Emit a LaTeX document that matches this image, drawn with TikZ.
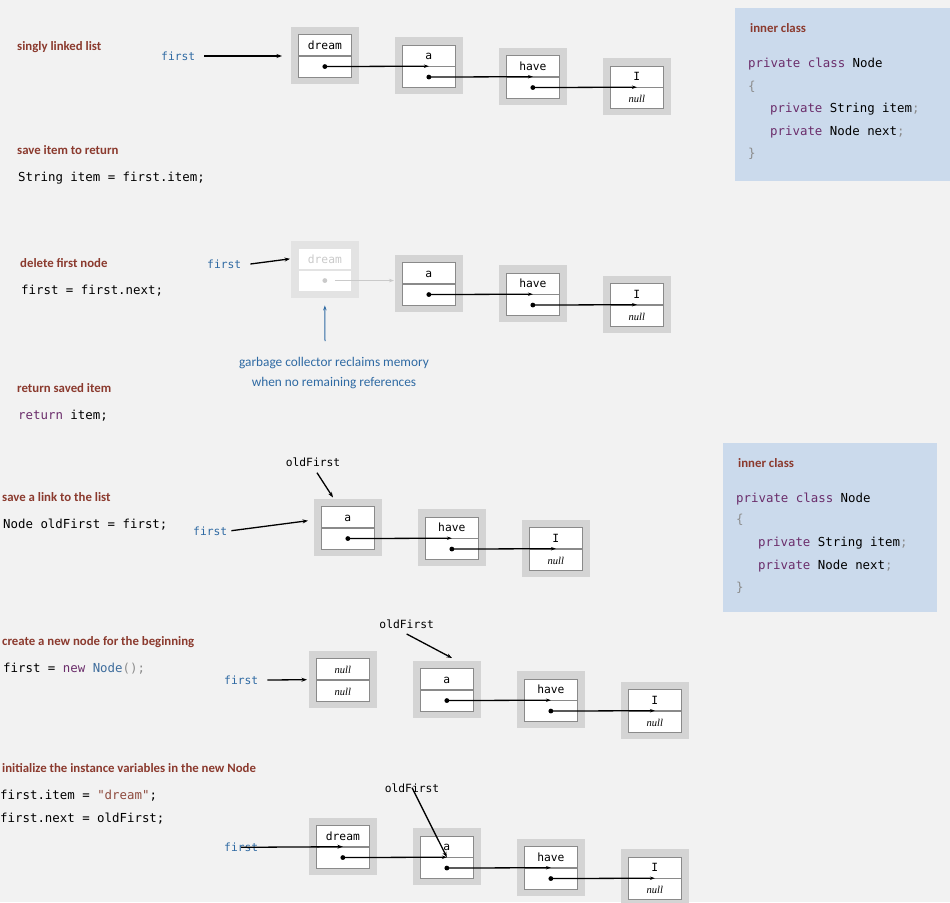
\documentclass[tikz,border=0pt]{standalone}
\usepackage{fontspec}
\setmainfont{Liberation Serif}
\setsansfont{Carlito}
\setmonofont{DejaVu Sans Mono}
\usepackage{xcolor}
\definecolor{FondPage}{HTML}{F2F2F2}
\definecolor{TitreRouge}{HTML}{8B3A2E}
\definecolor{BleuLabel}{HTML}{2F6AA3}
\definecolor{BleuNode}{HTML}{3D6C9C}
\definecolor{MotCle}{HTML}{6B2D6B}
\definecolor{BleuBoite}{HTML}{CBDAEC}
\definecolor{GrisNoeud}{HTML}{D4D4D4}
\definecolor{GrisBord}{HTML}{8A8A8A}
\definecolor{GrisFantome}{HTML}{E3E3E3}
\definecolor{TexteFantome}{HTML}{CACACA}
\definecolor{ChaineBrun}{HTML}{8E4B3E}
\definecolor{GrisAccolade}{HTML}{8C8C8C}
\usepackage{tikz}
\usetikzlibrary{calc,positioning,arrows.meta}

\newcommand{\kw}[1]{\textcolor{MotCle}{#1}}
\newcommand{\nulltexte}{{\rmfamily\itshape\fontsize{10.5}{12}\selectfont null}}
% noeud de liste : [style]{nom}{x}{y}{item}{next}
\newcommand{\noeud}[6][normal]{%
  \fill[fond#1] ({#3-7.5},{#4-7.5}) rectangle ({#3+60.5},{#4+49.5});
  \node[cell#1, anchor=north west] (#2-h) at (#3,#4) {#5};
  \node[cell#1, anchor=north] (#2-b) at (#2-h.south) {#6};
}
% lien next : point noir + fleche vers le noeud suivant
\newcommand{\lienpointe}[2]{%
  \fill (#1-b.center) circle (2.4);
  \draw[lien] (#1-b.center) -- (#2-h.south);
}

\begin{document}
\begin{tikzpicture}[x=1pt, y=-1pt,
    every node/.style={inner sep=0pt},
    titre/.style={anchor=west, font=\sffamily\bfseries\fontsize{12.8}{14}\selectfont, text=TitreRouge, text height=9pt, text depth=0pt},
    javacode/.style={anchor=west, font=\ttfamily\fontsize{12.4}{14}\selectfont, text height=10pt, text depth=0.5pt},
    etiq/.style={anchor=west, font=\ttfamily\fontsize{11.3}{13}\selectfont, text=BleuLabel, text height=9pt, text depth=0pt},
    nomvar/.style={font=\ttfamily\fontsize{11.3}{13}\selectfont, text height=9pt, text depth=0pt},
    gc/.style={font=\sffamily\fontsize{13.3}{15}\selectfont, text=BleuLabel},
    fondnormal/.style={fill=GrisNoeud},
    fondfantome/.style={fill=GrisFantome},
    cellnormal/.style={draw=GrisBord, fill=white, line width=0.7pt, minimum width=53pt, minimum height=21pt,
      font=\ttfamily\fontsize{11.3}{13}\selectfont, text height=9pt, text depth=0pt},
    cellfantome/.style={cellnormal, draw=GrisFantome, text=TexteFantome},
    lien/.style={line width=1.3pt, -{Stealth[length=5pt,width=3.5pt]}},
    pointeur/.style={line width=1.3pt, -{Stealth[length=5.5pt,width=4pt]}},
    boite/.style={fill=BleuBoite}]
    \path[use as bounding box, fill=FondPage] (0,0) rectangle (950,902);

    % classe interne (deux fois)
    \fill[boite] (735,8) rectangle (950,181);
    \node[titre] (ic1) at (750,28) {inner class};
    \node[javacode] (k1a) at (748,63) {\kw{private class} Node};
    \node[javacode, text=GrisAccolade] (k1b) at (748,86) {\{};
    \node[javacode] (k1c) at (770,108) {\kw{private} String item\textcolor{GrisAccolade}{;}};
    \node[javacode] (k1d) at (770,131) {\kw{private} Node next\textcolor{GrisAccolade}{;}};
    \node[javacode, text=GrisAccolade] (k1e) at (748,153) {\}};

    \fill[boite] (723,443) rectangle (937,612);
    \node[titre] (ic2) at (738,463) {inner class};
    \node[javacode] (k2a) at (736,497.7) {\kw{private class} Node};
    \node[javacode, text=GrisAccolade] (k2b) at (736,519) {\{};
    \node[javacode] (k2c) at (758,542) {\kw{private} String item\textcolor{GrisAccolade}{;}};
    \node[javacode] (k2d) at (758,565) {\kw{private} Node next\textcolor{GrisAccolade}{;}};
    \node[javacode, text=GrisAccolade] (k2e) at (736,587) {\}};

    % liste chainee
    \node[titre] (t1) at (17,46) {singly linked list};
    \node[etiq] (f1) at (161,56) {first};
    \noeud{d1}{298}{34}{dream}{}
    \noeud{a1}{402}{44.5}{a}{}
    \noeud{h1}{506}{55}{have}{}
    \noeud{i1}{610}{65.5}{I}{\nulltexte}
    \draw[pointeur] ([xshift=9pt]f1.east) -- ($(d1-h.west |- f1.east)+(-16,0)$);

    % sauver l'item
    \node[titre] (t2) at (17,150) {save item to return};
    \node[javacode] (c2) at (18,177) {String item = first.item;};

    % supprimer le premier noeud
    \node[titre] (t3) at (20,263) {delete first node};
    \node[javacode] (c3) at (21,290) {first = first.next;};
    \node[etiq] (f3) at (207,264) {first};
    \noeud[fantome]{g3}{298}{248}{dream}{}
    \noeud{a3}{402}{262}{a}{}
    \noeud{h3}{506}{272.5}{have}{}
    \noeud{i3}{610}{283}{I}{\nulltexte}
    \draw[pointeur] ([xshift=9pt]f3.east) -- ([xshift=-8pt]g3-h.west);
    \fill[TexteFantome] (g3-b.center) circle (2.4);
    \draw[lien, line width=0.9pt, TexteFantome] ($(g3-b.center)+(10,0)$) -- ($(g3-b.center -| a3-h.west)+(-8,0)$);
    \node[gc] (gc1) at (334,362.7) {garbage collector reclaims memory};
    \node[gc] (gc2) at (334,382.7) {when no remaining references};
    \coordinate (gcpied) at (325,341);
    \draw[lien, line width=1pt, BleuLabel] (gcpied) -- ([yshift=-14pt]g3-b.south);

    % retourner l'item
    \node[titre] (t4) at (17,388) {return saved item};
    \node[javacode] (c4) at (18,415) {\kw{return} item;};

    % garder un lien
    \node[titre] (t5) at (2,497) {save a link to the list};
    \node[javacode] (c5) at (3,524) {Node oldFirst = first;};
    \node[nomvar] (o5) at (313,462) {oldFirst};
    \node[etiq] (f5) at (193,530.7) {first};
    \noeud{a5}{321}{506}{a}{}
    \noeud{h5}{425}{516.5}{have}{}
    \noeud{i5}{529}{527}{I}{\nulltexte}
    \coordinate (o5fin) at (333,497.5);
    \coordinate (f5fin) at (308,520.7);
    \draw[pointeur] ([xshift=4pt,yshift=-6pt]o5.south) -- (o5fin);
    \draw[pointeur] ([xshift=4pt]f5.east) -- (f5fin);

    % nouveau noeud
    \node[titre] (t6) at (2,641) {create a new node for the beginning};
    \node[javacode] (c6) at (3,668) {first = \kw{new} \textcolor{BleuNode}{Node}\textcolor{GrisAccolade}{();}};
    \node[nomvar] (o6) at (406.7,624.3) {oldFirst};
    \node[etiq] (f6) at (224,680) {first};
    \noeud{n6}{316}{658}{\nulltexte}{\nulltexte}
    \noeud{a6}{420}{668}{a}{}
    \noeud{h6}{524}{678.5}{have}{}
    \noeud{i6}{628}{689}{I}{\nulltexte}
    \coordinate (o6fin) at (452,658);
    \draw[pointeur] ([yshift=-5pt]o6.south) -- (o6fin);
    \draw[pointeur] ([xshift=9pt]f6.east) -- ([xshift=-9pt]n6-h.south west);

    % initialiser les variables
    \node[titre] (t7) at (2,768) {initialize the instance variables in the new Node};
    \node[javacode] (c7a) at (0,795) {first.item = \textcolor{ChaineBrun}{"dream"};};
    \node[javacode] (c7b) at (0,818) {first.next = oldFirst;};
    \node[nomvar] (o7) at (412,787.7) {oldFirst};
    \node[etiq] (f7) at (224,847.3) {first};
    \noeud{d7}{316}{825}{dream}{}
    \noeud{a7}{420}{835.5}{a}{}
    \noeud{h7}{524}{846}{have}{}
    \noeud{i7}{628}{856.5}{I}{\nulltexte}

    % liens next
    \lienpointe{d1}{a1} \lienpointe{a1}{h1} \lienpointe{h1}{i1}
    \lienpointe{a3}{h3} \lienpointe{h3}{i3}
    \lienpointe{a5}{h5} \lienpointe{h5}{i5}
    \lienpointe{a6}{h6} \lienpointe{h6}{i6}
    \lienpointe{d7}{a7} \lienpointe{a7}{h7} \lienpointe{h7}{i7}
    \draw[pointeur] ([xshift=17pt]f7.west) -- (d7-h.south);
    \draw[pointeur] (o7.center) -- (a7-h.south);
\end{tikzpicture}
\end{document}
